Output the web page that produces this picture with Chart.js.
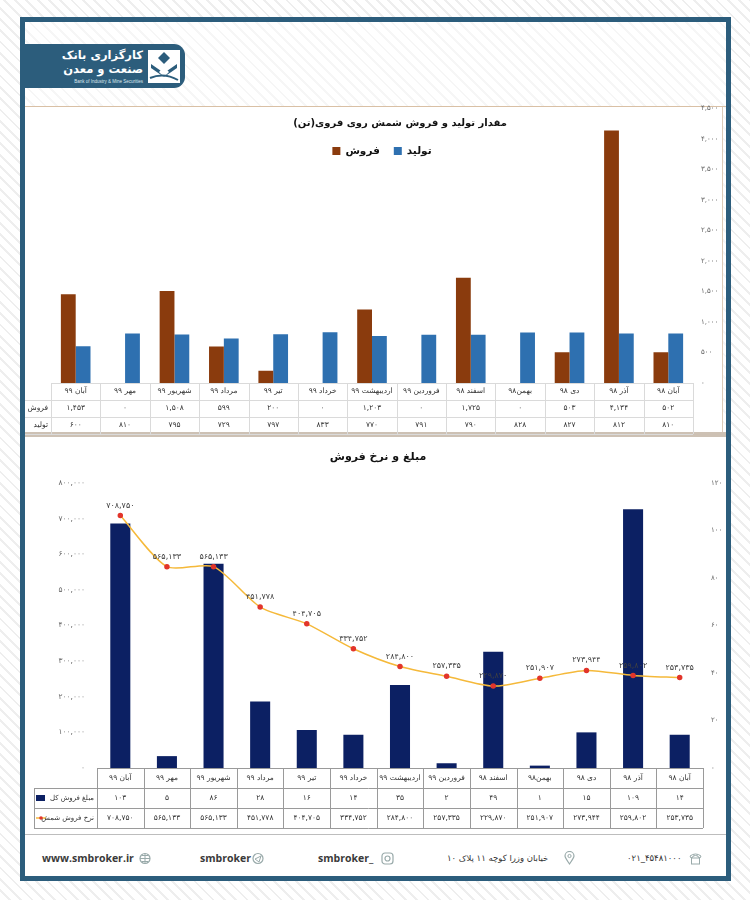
<!DOCTYPE html>
<html lang="fa">
<head>
<meta charset="utf-8">
<script src="https://cdn.jsdelivr.net/npm/chart.js@4.4.0/dist/chart.umd.min.js"></script>
<style>
  body { margin: 0; width: 750px; height: 900px; position: relative; overflow: hidden;
    font-family: "DejaVu Sans", sans-serif;
    background: repeating-linear-gradient(45deg, #ffffff 0 6px, #eeeeee 6px 8px); }
  .abs { position: absolute; }
  #frame { left: 20px; top: 17px; width: 711px; height: 864px; box-sizing: border-box;
    border: 5px solid #2c5d7c;
    background: repeating-linear-gradient(45deg, #ffffff 0 6px, #f6f6f6 6px 8px); }
  #logo { left: 25px; top: 44px; width: 160px; height: 44px; background: #2c5d7c;
    border-radius: 0 11px 11px 0; }
  #logo .t1, #logo .t2 { position: absolute; right: 42px; color: #fff; font-weight: bold;
    font-size: 11.5px; line-height: 13px; direction: rtl; letter-spacing: -0.3px; }
  #logo .t1 { top: 5px; }
  #logo .t2 { top: 19px; }
  #logo .t3 { position: absolute; right: 42px; top: 35px; color: #dfe8ee; font-size: 4.5px;
    white-space: nowrap; font-family: "Liberation Sans", sans-serif; }
  #logo svg { position: absolute; right: 5px; top: 6px; }
  .box { background: #fff; }
  canvas { position: absolute; }
  .foot { position: absolute; top: 850px; height: 16px; display: flex; align-items: center;
    gap: 5px; font-size: 10px; color: #333; white-space: nowrap; }
  .foot b { font-family: "Open Sans", sans-serif; font-weight: bold; font-size: 10.5px; color: #3a3a3a; }
</style>
</head>
<body>
<div id="frame" class="abs"></div>
<div id="logo" class="abs">
  <div class="t1">کارگزاری بانک</div>
  <div class="t2">صنعت و معدن</div>
  <div class="t3">Bank of Industry &amp; Mine Securities</div>
  <svg width="32" height="33" viewBox="0 0 32 33">
    <rect x="0" y="0" width="32" height="33" fill="#fff"/>
    <path d="M16 2 L22 8 L16 14 L10 8 Z" fill="#2c5d7c"/>
    <path d="M3 14 L16 23 L29 14 L29 18 L16 27 L3 18 Z" fill="#2c5d7c"/>
    <path d="M16 17 L21 22 L16 27 L11 22 Z" fill="#fff"/>
    <path d="M2 28 Q16 22 30 30" stroke="#2c5d7c" stroke-width="2" fill="none"/>
  </svg>
</div>
<div class="abs" style="left:25px;top:106px;width:701px;height:1px;background:#d9c0a5"></div>
<div class="abs box" style="left:25px;top:107px;width:697px;height:325px;border-right:1px solid #dccbb8"></div>
<div class="abs" style="left:25px;top:432px;width:701px;height:5px;background:#cdc1b4"></div>
<div class="abs box" style="left:25px;top:437px;width:701px;height:397px"></div>
<div class="abs" style="left:25px;top:834px;width:701px;height:1px;background:#bdbdbd"></div>
<div class="abs box" style="left:25px;top:835px;width:701px;height:41px"></div>

<canvas id="topChart" width="701" height="341" style="left:25px;top:96px"></canvas>
<canvas id="bottomChart" width="701" height="394" style="left:25px;top:438px"></canvas>

<div class="foot" style="left:42px"><b>www.smbroker.ir</b>
  <svg width="12" height="13" viewBox="0 0 12 13"><circle cx="6" cy="6.5" r="5" fill="none" stroke="#9aa" stroke-width="1.2"/><path d="M1 6.5 H11 M6 1.5 V11.5 M3 3.5 H9 M3 9.5 H9" stroke="#9aa" stroke-width="1"/></svg></div>
<div class="foot" style="left:200px;gap:1px"><b>smbroker</b>
  <svg width="12" height="13" viewBox="0 0 12 13"><circle cx="6" cy="6.5" r="5" fill="none" stroke="#9aa" stroke-width="1.2"/><path d="M3 7 L9 4 L7 10 Z" fill="none" stroke="#9aa" stroke-width="1"/></svg></div>
<div class="foot" style="left:318px;gap:8px"><b>smbroker_</b>
  <svg width="13" height="13" viewBox="0 0 13 13"><rect x="1" y="1" width="11" height="11" rx="3" fill="none" stroke="#9aa" stroke-width="1.2"/><circle cx="6.5" cy="6.5" r="2.5" fill="none" stroke="#9aa" stroke-width="1.2"/></svg></div>
<div class="foot" style="left:447px;gap:16px"><span style="font-size:8.5px;direction:rtl">خیابان وزرا کوچه ۱۱ پلاک ۱۰</span>
  <svg width="11" height="14" viewBox="0 0 11 14"><path d="M5.5 13 C2 8 1 6.5 1 5 A4.5 4.5 0 0 1 10 5 C10 6.5 9 8 5.5 13 Z" fill="none" stroke="#9aa" stroke-width="1.2"/><circle cx="5.5" cy="5" r="1.6" fill="none" stroke="#9aa"/></svg></div>
<div class="foot" style="left:627px;gap:8px"><span style="font-size:8.5px">۰۲۱_۴۵۴۸۱۰۰۰</span>
  <svg width="13" height="13" viewBox="0 0 13 13"><path d="M1 4 Q6.5 0 12 4 L11 6 L9 5 L9 4 Q6.5 3 4 4 L4 5 L2 6 Z" fill="none" stroke="#9aa"/><rect x="2.5" y="6" width="8" height="6" fill="none" stroke="#9aa"/></svg></div>

<script>
// months, oldest on the right
var months = ['آبان ۹۹', 'مهر ۹۹', 'شهریور ۹۹', 'مرداد ۹۹', 'تیر ۹۹', 'خرداد ۹۹', 'اردیبهشت ۹۹',
  'فروردین ۹۹', 'اسفند ۹۸', 'بهمن۹۸', 'دی ۹۸', 'آذر ۹۸', 'آبان ۹۸'];

// top chart: tonnes
var salesTon = [1453, 0, 1508, 599, 200, 0, 1203, 0, 1725, 0, 503, 4134, 502];
var productionTon = [600, 810, 795, 729, 797, 833, 770, 791, 790, 828, 827, 812, 810];

// bottom chart: total sales amount and ingot price
var salesAmount = [103, 5, 86, 28, 16, 14, 35, 2, 49, 1, 15, 109, 14];
var salesRate = [708750, 565133, 565133, 451778, 404705, 334752, 284800, 257335, 229870,
  251907, 273944, 259802, 253735];

var topAxisMax = 4500, topAxisStep = 500;
var rateAxisMax = 800000, rateAxisStep = 100000;
var amountAxisMax = 120, amountAxisStep = 20;

var FONT = '"DejaVu Sans", sans-serif';
var faDigits = '۰۱۲۳۴۵۶۷۸۹';

function fa(n) {
    var s = String(n).replace(/\B(?=(\d{3})+(?!\d))/g, ',');
    return s.replace(/\d/g, function (d) { return faDigits[d]; });
}

// draws title, legend, point labels and the excel style data table under the plot
var sheetPlugin = {
    id: 'sheet',
    afterDraw: function (chart, args, o) {
        var ctx = chart.ctx, area = chart.chartArea, xs = chart.scales.x;
        var n = chart.data.labels.length;
        var colW = (area.right - area.left) / n;
        ctx.save();
        ctx.textBaseline = 'middle';
        ctx.textAlign = 'center';

        ctx.fillStyle = '#111';
        ctx.font = o.titleFont;
        ctx.direction = 'rtl';
        ctx.fillText(o.title, o.titleX, o.titleY);

        if (o.legend) {
            ctx.font = 'bold 10.5px ' + FONT;
            var items = chart.data.datasets.map(function (d) {
                return { label: d.label, color: d.backgroundColor, w: ctx.measureText(d.label).width };
            });
            var total = 0;
            items.forEach(function (it) { total += 8 + 5 + it.w + 14; });
            var x = o.legend.x - total / 2;
            items.forEach(function (it) {
                ctx.fillStyle = it.color;
                ctx.fillRect(x, o.legend.y - 4, 8, 8);
                ctx.fillStyle = '#111';
                ctx.textAlign = 'left';
                ctx.direction = 'ltr';
                ctx.fillText(it.label, x + 13, o.legend.y);
                x += 8 + 5 + it.w + 14;
            });
            ctx.textAlign = 'center';
        }

        if (o.pointLabels !== undefined) {
            var meta = chart.getDatasetMeta(o.pointLabels);
            var vals = chart.data.datasets[o.pointLabels].data;
            ctx.font = '8px ' + FONT;
            ctx.fillStyle = '#404040';
            ctx.direction = 'ltr';
            meta.data.forEach(function (p, i) { ctx.fillText(fa(vals[i]), p.x, p.y - 10); });
        }

        // table
        var top = area.bottom, rh = o.rowH, rows = o.rows;
        var bottom = top + rh * (rows.length + 1);
        ctx.strokeStyle = o.gridColor;
        ctx.lineWidth = 1;
        ctx.beginPath();
        ctx.moveTo(area.left, Math.round(top) + 0.5);
        ctx.lineTo(area.right, Math.round(top) + 0.5);
        for (var r = 1; r <= rows.length + 1; r++) {
            var y = Math.round(top + r * rh) + 0.5;
            ctx.moveTo(o.tableLeft, y);
            ctx.lineTo(area.right, y);
        }
        for (var i = 0; i <= n; i++) {
            var vx = Math.round(area.left + i * colW) + 0.5;
            ctx.moveTo(vx, top);
            ctx.lineTo(vx, bottom);
        }
        if (o.tableBorder) {
            ctx.moveTo(o.tableLeft + 0.5, top + rh);
            ctx.lineTo(o.tableLeft + 0.5, bottom);
        }
        ctx.stroke();

        ctx.fillStyle = '#333';
        ctx.font = o.cellFont;
        ctx.direction = 'rtl';
        chart.data.labels.forEach(function (lab, i) {
            ctx.fillText(lab, xs.getPixelForValue(i), top + rh / 2);
        });
        rows.forEach(function (row, r) {
            var cy = top + rh * (r + 1.5);
            ctx.direction = 'ltr';
            ctx.textAlign = 'center';
            ctx.fillStyle = '#333';
            ctx.font = o.cellFont;
            row.values.forEach(function (v, i) {
                ctx.fillText(fa(v), xs.getPixelForValue(i), cy);
            });
            if (row.swatch === 'box') {
                ctx.fillStyle = row.color;
                ctx.fillRect(o.tableLeft + 2, cy - 3, 9, 6);
            } else if (row.swatch === 'line') {
                ctx.strokeStyle = row.color;
                ctx.lineWidth = 1.5;
                ctx.beginPath();
                ctx.moveTo(o.tableLeft + 2, cy);
                ctx.lineTo(o.tableLeft + 12, cy);
                ctx.stroke();
                ctx.fillStyle = row.dot;
                ctx.beginPath();
                ctx.arc(o.tableLeft + 7, cy, 1.8, 0, Math.PI * 2);
                ctx.fill();
            }
            ctx.fillStyle = '#333';
            ctx.font = o.rowFont;
            ctx.direction = 'rtl';
            ctx.textAlign = 'right';
            ctx.fillText(row.label, area.left - 3, cy);
        });
        ctx.restore();
    }
};

var salesColor = '#8a3b0d', prodColor = '#2e70b0';
var amountColor = '#0c2063', rateColor = '#f5b93a', dotColor = '#e2352b';

new Chart(document.getElementById('topChart'), {
    type: 'bar',
    data: {
        labels: months,
        datasets: [{
            label: 'فروش',
            data: salesTon,
            backgroundColor: salesColor
        }, {
            label: 'تولید',
            data: productionTon,
            backgroundColor: prodColor
        }]
    },
    options: {
        responsive: false,
        animation: false,
        categoryPercentage: 0.6,
        barPercentage: 1.0,
        layout: { padding: { left: 26, right: 0, top: 8, bottom: 54 } },
        scales: {
            x: {
                grid: { display: false },
                border: { display: false },
                ticks: { display: false },
                afterFit: function (s) { s.height = 0; }
            },
            y: {
                position: 'right',
                min: 0,
                max: topAxisMax,
                grid: { display: false, drawTicks: false },
                border: { display: false },
                ticks: {
                    stepSize: topAxisStep,
                    padding: 8,
                    color: '#666',
                    font: { family: FONT, size: 7 },
                    callback: function (v) { return fa(v); }
                },
                afterFit: function (s) { s.width = 33; }
            }
        },
        plugins: {
            legend: { display: false },
            tooltip: { enabled: false },
            sheet: {
                title: 'مقدار تولید و فروش شمش روی فروی(تن)',
                titleFont: 'bold 10px ' + FONT,
                titleX: 375,
                titleY: 27,
                legend: { x: 364, y: 55 },
                rowH: 17,
                rows: [
                    { label: 'فروش', values: salesTon },
                    { label: 'تولید', values: productionTon }
                ],
                tableLeft: 0,
                gridColor: '#dadada',
                cellFont: '7.5px ' + FONT,
                rowFont: '7.5px ' + FONT
            }
        }
    },
    plugins: [sheetPlugin]
});

new Chart(document.getElementById('bottomChart'), {
    data: {
        labels: months,
        datasets: [{
            type: 'line',
            label: 'نرخ فروش شمش',
            data: salesRate,
            yAxisID: 'y',
            borderColor: rateColor,
            backgroundColor: rateColor,
            borderWidth: 1.5,
            tension: 0.25,
            pointRadius: 2,
            pointBackgroundColor: dotColor,
            pointBorderColor: dotColor,
            order: 0
        }, {
            type: 'bar',
            label: 'مبلغ فروش کل',
            data: salesAmount,
            yAxisID: 'y1',
            backgroundColor: amountColor,
            categoryPercentage: 0.43,
            barPercentage: 1.0,
            order: 1
        }]
    },
    options: {
        responsive: false,
        animation: false,
        layout: { padding: { left: 0, right: 0, top: 45, bottom: 64 } },
        scales: {
            x: {
                grid: { display: false },
                border: { display: false },
                ticks: { display: false },
                afterFit: function (s) { s.height = 0; }
            },
            y: {
                position: 'left',
                min: 0,
                max: rateAxisMax,
                grid: { display: false, drawTicks: false },
                border: { display: false },
                ticks: {
                    stepSize: rateAxisStep,
                    padding: 12,
                    color: '#666',
                    font: { family: FONT, size: 7.5 },
                    callback: function (v) { return fa(v); }
                },
                afterFit: function (s) { s.width = 72; }
            },
            y1: {
                position: 'right',
                min: 0,
                max: amountAxisMax,
                grid: { display: false, drawTicks: false },
                border: { display: false },
                ticks: {
                    stepSize: amountAxisStep,
                    padding: 8,
                    color: '#666',
                    font: { family: FONT, size: 7 },
                    callback: function (v) { return fa(v); }
                },
                afterFit: function (s) { s.width = 23; }
            }
        },
        plugins: {
            legend: { display: false },
            tooltip: { enabled: false },
            sheet: {
                title: 'مبلغ و نرخ فروش',
                titleFont: 'bold 11px ' + FONT,
                titleX: 353,
                titleY: 19,
                pointLabels: 0,
                rowH: 20,
                rows: [
                    { label: 'مبلغ فروش کل', values: salesAmount, swatch: 'box', color: amountColor },
                    { label: 'نرخ فروش شمش', values: salesRate, swatch: 'line', color: rateColor, dot: dotColor }
                ],
                tableLeft: 9,
                tableBorder: true,
                gridColor: '#9a9a9a',
                cellFont: '7.5px ' + FONT,
                rowFont: '7px ' + FONT
            }
        }
    },
    plugins: [sheetPlugin]
});
</script>
</body>
</html>
